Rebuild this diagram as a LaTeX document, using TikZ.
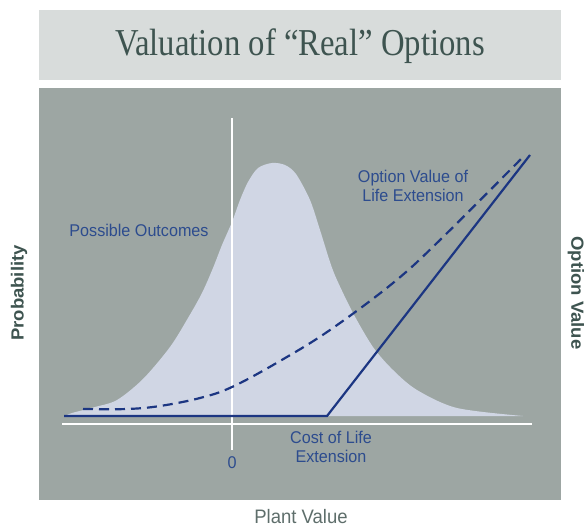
\documentclass[tikz,border=0pt]{standalone}
\usepackage{fontspec}
\setmainfont{Liberation Serif}
\setsansfont{Liberation Sans}
\begin{document}
\begin{tikzpicture}[x=1pt,y=-1pt,
  lbl/.style={font=\sffamily\fontsize{17}{19}\selectfont, text=labelblue, align=center, inner sep=0, xscale=0.95},
  axlbl/.style={font=\sffamily\bfseries\fontsize{18.5}{20}\selectfont, text=axisgreen, inner sep=0, xscale=0.95},
  bluecurve/.style={draw=linenavy, line width=2.2pt}]
\definecolor{titlebg}{HTML}{D8DCDB}
\definecolor{panelbg}{HTML}{9DA6A3}
\definecolor{bellfill}{HTML}{D0D6E4}
\definecolor{linenavy}{HTML}{1C3682}
\definecolor{labelblue}{HTML}{2D4C8E}
\definecolor{axisgreen}{HTML}{3E5450}
\definecolor{pvgray}{HTML}{5E6E6B}
\useasboundingbox (0,0) rectangle (586,527);
\fill[white] (0,0) rectangle (586,527);
% title box
\fill[titlebg] (39,10) rectangle (561,80);
\node[font=\fontsize{38}{42}\selectfont, text=axisgreen, xscale=0.86, inner sep=0] (title) at (300,46) {Valuation of “Real” Options};
% panel
\fill[panelbg] (39,88) rectangle (561,500);
% bell curve
\fill[bellfill] plot[smooth, tension=0.5] coordinates {(65,416) (72,413) (95,407) (117,400) (143,379) (170,347) (188,318) (202,293) (213,268) (222,245) (232,222) (240,200) (248,182) (258,168) (272,163) (285,165) (296,174) (310,200) (320,230) (330,262) (337,280) (353,313) (373,347) (393,370) (417,390) (457,408) (523,416)} -- cycle;
% axes
\draw[white, line width=2pt] (62,424) -- (532,424);
\draw[white, line width=2pt] (232,118) -- (232,450);
% solid option payoff
\coordinate (s0) at (64,416);
\coordinate (k) at (327,416);
\coordinate (s1) at (530,155);
\draw[bluecurve] (s0) -- (k) -- (s1);
% dashed option value
\draw[bluecurve, dash pattern=on 10pt off 6pt] plot[smooth, tension=0.6] coordinates {(83,409) (127,409) (160,406) (200,398) (232,387) (280,361) (330,330) (393,283) (440,240) (523,157)};
% labels
\node[lbl] (po) at (139,230) {Possible Outcomes};
\node[lbl] (ov) at (413,186) {Option Value of\\Life Extension};
\node[lbl] (cost) at (331,447) {Cost of Life\\Extension};
\node[lbl] (zero) at (232,463) {0};
\node[font=\sffamily\fontsize{19.5}{21}\selectfont, text=pvgray, inner sep=0, xscale=0.95] (pv) at (301,517) {Plant Value};
\node[axlbl, rotate=90] (prob) at (19,293) {Probability};
\node[axlbl, rotate=-90] (optv) at (576,293) {Option Value};
\end{tikzpicture}
\end{document}
